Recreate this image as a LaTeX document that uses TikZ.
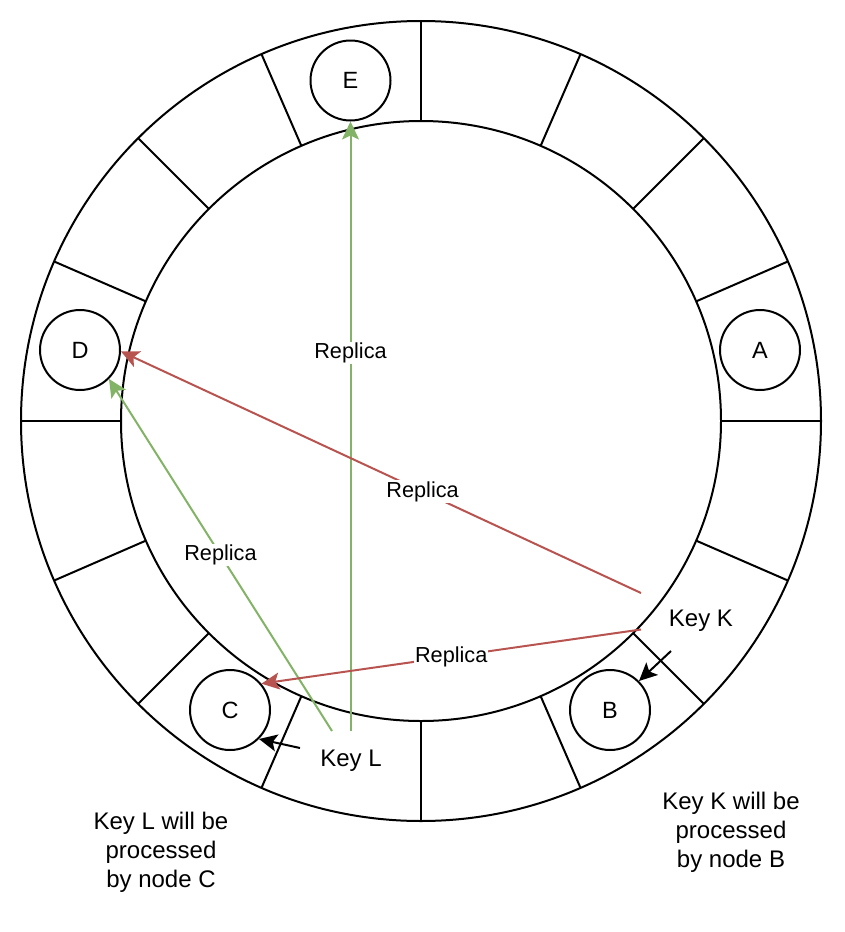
\documentclass[tikz,border=0pt]{standalone}
\usepackage{fontspec}
\setmainfont{Liberation Sans}
\usetikzlibrary{arrows.meta,calc}
\definecolor{gline}{HTML}{82B366}
\definecolor{rline}{HTML}{B85450}
\begin{document}
\begin{tikzpicture}[x=1pt,y=-1pt,
  ring/.style={line width=2pt},
  nodecirc/.style={circle,draw,line width=2pt,minimum size=80pt,inner sep=0pt,fill=white,font=\fontsize{23.5}{28}\selectfont},
  tip/.style={-{Stealth[length=18pt,width=17pt,inset=4pt]}},
  garrow/.style={tip,draw=gline,fill=gline,line width=2pt},
  rarrow/.style={tip,draw=rline,fill=rline,line width=2pt},
  karrow/.style={tip,draw=black,fill=black,line width=2pt},
  lbl/.style={fill=white,inner sep=1pt,text=black,font=\fontsize{21.7}{26}\selectfont},
  keytxt/.style={inner sep=0pt,font=\fontsize{24}{28}\selectfont},
  note/.style={inner sep=0pt,align=center,font=\fontsize{24}{29}\selectfont}
]
\useasboundingbox (0,0) rectangle (844,932);
\coordinate (O) at (421,421);
\draw[ring] (O) circle[radius=400];
\draw[ring] (O) circle[radius=300];
\foreach \a in {0,23.5,45,66.5,90,113.5,135,156.5,180,203.5,225,246.5,270,293.5,315,336.5}
  \draw[ring] ($(O)+(\a:300)$) -- ($(O)+(\a:400)$);

\node[nodecirc] (E) at (350.5,80.5) {E};
\node[nodecirc] (D) at (80,350) {D};
\node[nodecirc] (A) at (760,350) {A};
\node[nodecirc] (C) at (230,710) {C};
\node[nodecirc] (B) at (610,710) {B};

\coordinate (g1s) at (350.5,731);
\coordinate (g2s) at (332,731);
\coordinate (r1s) at (641,593);
\coordinate (r2s) at (641,629.5);
\coordinate (kks) at (671,651);
\coordinate (kls) at (300,748);

\draw[garrow] (g1s) -- (E.south) node[lbl,pos=0.62]{Replica};
\draw[garrow] (g2s) -- (D.-45) node[lbl,pos=0.5]{Replica};
\draw[rarrow] (r1s) -- (D.-2) node[lbl,pos=0.42]{Replica};
\draw[rarrow] (r2s) -- (C.40) node[lbl,pos=0.5]{Replica};
\draw[karrow] (kks) -- (B.45);
\draw[karrow] (kls) -- (C.-45);

\node[keytxt] (KK) at (701,621) {Key K};
\node[keytxt] (KL) at (351,761) {Key L};

\node[note] (NL) at (161,852) {Key L will be\\processed\\by node C};
\node[note] (NK) at (731,832) {Key K will be\\processed\\by node B};
\end{tikzpicture}
\end{document}
